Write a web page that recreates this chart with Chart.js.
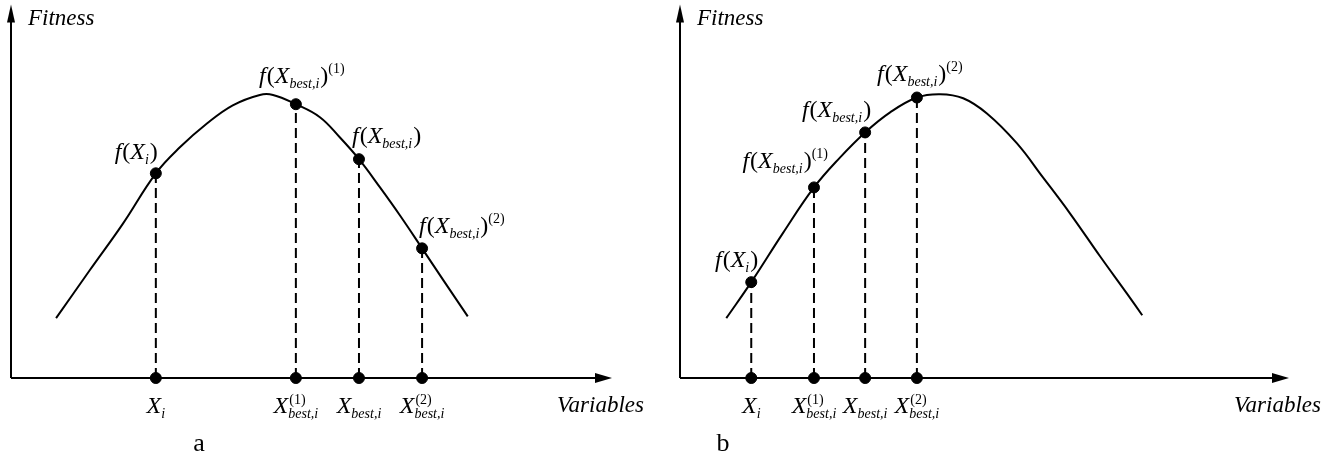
<!DOCTYPE html>
<html lang="en">
<head>
<meta charset="UTF-8" />
<title>Fitness vs Variables</title>
<script src="https://cdn.jsdelivr.net/npm/chart.js@4.4.1/dist/chart.umd.min.js"></script>
<style>
  html, body { margin: 0; padding: 0; background: #fff; }
  body { width: 1330px; height: 457px; position: relative; overflow: hidden; }
  .panel { position: absolute; top: 0; height: 457px; width: 665px; }
  #wrapA { left: 0; }
  #wrapB { left: 665px; }
</style>
</head>
<body>
<div class="panel" id="wrapA"><canvas id="chartA"></canvas></div>
<div class="panel" id="wrapB"><canvas id="chartB"></canvas></div>
<script>
// curve (x: variables, y: fitness, both 0..100 of the axis length)
const curveAX = [7.5, 13.1, 18.6, 24.1, 28.1, 32.6, 36.9, 41.4, 43.6, 47.4, 51.4, 54.7, 57.9, 61.4, 64.7, 68.4, 71.9, 76.0];
const curveAY = [16.1, 29.0, 41.5, 55.1, 62.1, 68.5, 73.4, 76.2, 76.2, 73.7, 70.2, 64.8, 58.9, 51.3, 43.8, 34.9, 26.4, 16.6];
const curveBX = [7.6, 11.7, 16.9, 22.0, 26.3, 30.4, 34.5, 38.9, 42.7, 46.5, 50.4, 55.3, 59.6, 64.0, 69.0, 73.4, 75.9];
const curveBY = [16.1, 25.8, 39.0, 51.3, 59.4, 66.1, 71.5, 75.5, 76.4, 75.3, 71.2, 63.2, 54.0, 44.4, 32.7, 22.7, 16.9];

// marked solutions: X_i, X_best,i^(1), X_best,i, X_best,i^(2)
const markNames = ['Xi', 'Xbest1', 'Xbest', 'Xbest2'];
const markAX = [24.1, 47.4, 57.9, 68.4];
const markAY = [55.1, 73.7, 58.9, 34.9];
const markBX = [11.7, 22.0, 30.4, 38.9];
const markBY = [25.8, 51.3, 66.1, 75.5];

const yTitle = 'Fitness';
const xTitle = 'Variables';
const panelTags = ['a', 'b'];

// ---- text with sub/superscripts ----
const FM = '24px "Liberation Serif"';
const FMI = 'italic 24px "Liberation Serif"';
const FS = '14px "Liberation Serif"';
const FSI = 'italic 14px "Liberation Serif"';

function supOf(name) {
  if (name === 'Xbest1') return '(1)';
  if (name === 'Xbest2') return '(2)';
  return null;
}
function subOf(name) { return name === 'Xi' ? 'i' : 'best,i'; }

function fParts(name) {
  const p = [
    { t: 'f', font: FMI }, { t: '(', font: FM, dx: 1 }, { t: 'X', font: FMI },
    { t: subOf(name), font: FSI, dy: 5 }, { t: ')', font: FM, dx: 1 }
  ];
  const s = supOf(name);
  if (s) p.push({ t: s, font: FS, dy: -10 });
  return p;
}
function xParts(name) {
  const p = [{ t: 'X', font: FMI }];
  const s = supOf(name);
  if (s) p.push({ stack: true, sub: subOf(name), sup: s });
  else p.push({ t: subOf(name), font: FSI, dy: 5 });
  return p;
}

function partWidth(ctx, p) {
  if (p.stack) {
    ctx.font = FSI; const a = ctx.measureText(p.sub).width;
    ctx.font = FS; const b = ctx.measureText(p.sup).width;
    return Math.max(a, b);
  }
  ctx.font = p.font;
  return ctx.measureText(p.t).width + (p.dx || 0);
}

function drawRich(ctx, parts, x, y, align) {
  const w = parts.reduce((s, p) => s + partWidth(ctx, p), 0);
  let cx = align === 'right' ? x - w : align === 'center' ? x - w / 2 : x;
  ctx.save();
  ctx.fillStyle = '#000';
  ctx.textAlign = 'left';
  ctx.textBaseline = 'alphabetic';
  parts.forEach((p) => {
    const pw = partWidth(ctx, p);
    if (p.stack) {
      ctx.font = FSI; ctx.fillText(p.sub, cx, y + 5);
      ctx.font = FS; ctx.fillText(p.sup, cx + 1, y - 9);
    } else {
      ctx.font = p.font;
      ctx.fillText(p.t, cx + (p.dx || 0), y + (p.dy || 0));
    }
    cx += pw;
  });
  ctx.restore();
}

// where each top label sits relative to its point (pixels)
const labelPosA = [
  { align: 'right', dx: 2, dy: -14 },
  { align: 'center', dx: 6, dy: -21 },
  { align: 'left', dx: -7, dy: -16 },
  { align: 'left', dx: -3, dy: -15 }
];
const labelPosB = [
  { align: 'right', dx: 7, dy: -15 },
  { align: 'right', dx: 14, dy: -19 },
  { align: 'right', dx: 6, dy: -15 },
  { align: 'center', dx: 3, dy: -17 }
];

function sketchPlugin(labelPos, tagX) {
  return {
    id: 'sketch',
    beforeDatasetsDraw(chart) {
      const { ctx, chartArea: a } = chart;
      ctx.save();
      ctx.strokeStyle = '#000';
      ctx.fillStyle = '#000';
      ctx.lineWidth = 2;
      ctx.beginPath();
      ctx.moveTo(a.left, a.bottom);
      ctx.lineTo(a.right - 12, a.bottom);
      ctx.moveTo(a.left, a.bottom);
      ctx.lineTo(a.left, a.top + 12);
      ctx.stroke();
      // arrow heads
      ctx.beginPath();
      ctx.moveTo(a.right, a.bottom);
      ctx.lineTo(a.right - 17, a.bottom - 5);
      ctx.lineTo(a.right - 17, a.bottom + 5);
      ctx.closePath();
      ctx.fill();
      ctx.beginPath();
      ctx.moveTo(a.left, a.top - 2);
      ctx.lineTo(a.left - 4, a.top + 16);
      ctx.lineTo(a.left + 4, a.top + 16);
      ctx.closePath();
      ctx.fill();
      ctx.restore();
    },
    afterDatasetsDraw(chart) {
      const { ctx, chartArea: a } = chart;
      const xs = chart.scales.x, ys = chart.scales.y;
      const marks = chart.data.datasets[1].data.filter((d) => d.y > 0);
      marks.forEach((m, i) => {
        const px = xs.getPixelForValue(m.x);
        const py = ys.getPixelForValue(m.y);
        const lp = labelPos[i];
        drawRich(ctx, fParts(markNames[i]), px + lp.dx, py + lp.dy, lp.align);
        drawRich(ctx, xParts(markNames[i]), px, a.bottom + 35, 'center');
      });
      ctx.save();
      ctx.fillStyle = '#000';
      ctx.font = 'italic 23px "Liberation Serif"';
      ctx.textBaseline = 'alphabetic';
      ctx.textAlign = 'left';
      ctx.fillText(yTitle, a.left + 17, 25);
      ctx.textAlign = 'right';
      ctx.fillText(xTitle, a.right + 32, a.bottom + 34);
      ctx.font = '26px "Liberation Serif"';
      ctx.textAlign = 'center';
      ctx.fillText(chart.options.plugins.tagText, tagX, 451);
      ctx.restore();
    }
  };
}

function buildChart(canvasId, cx, cy, mx, my, pad, labelPos, tag, tagX) {
  const curve = cx.map((x, i) => ({ x, y: cy[i] }));
  const points = mx.map((x, i) => ({ x, y: my[i] }))
    .concat(mx.map((x) => ({ x, y: 0 })));
  const drops = mx.map((x, i) => ({
    type: 'line',
    data: [{ x, y: 0 }, { x, y: my[i] }],
    borderColor: '#000',
    borderWidth: 2,
    borderDash: [10, 5],
    pointRadius: 0,
    clip: false
  }));
  return new Chart(document.getElementById(canvasId), {
    type: 'scatter',
    data: {
      datasets: [
        {
          type: 'line',
          data: curve,
          borderColor: '#000',
          borderWidth: 2,
          tension: 0.4,
          pointRadius: 0,
          clip: false
        },
        {
          data: points,
          backgroundColor: '#000',
          borderColor: '#000',
          pointRadius: 5.5,
          clip: false
        }
      ].concat(drops)
    },
    options: {
      responsive: true,
      maintainAspectRatio: false,
      animation: false,
      layout: { padding: pad },
      plugins: { legend: { display: false }, tooltip: { enabled: false }, tagText: tag },
      scales: {
        x: { type: 'linear', min: 0, max: 100, display: false },
        y: { type: 'linear', min: 0, max: 100, display: false }
      }
    },
    plugins: [sketchPlugin(labelPos, tagX)]
  });
}

buildChart('chartA', curveAX, curveAY, markAX, markAY,
  { left: 11, right: 53, top: 6, bottom: 79 }, labelPosA, panelTags[0], 199);
buildChart('chartB', curveBX, curveBY, markBX, markBY,
  { left: 15, right: 41, top: 6, bottom: 79 }, labelPosB, panelTags[1], 58);
</script>
</body>
</html>
